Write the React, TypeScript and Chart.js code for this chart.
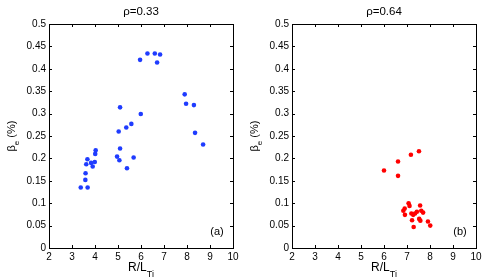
import React, { useEffect, useRef } from "react";
import { Chart, registerables } from "chart.js";

Chart.register(...registerables);

// ---- data ----
const xTicks = [2, 3, 4, 5, 6, 7, 8, 9, 10];
const yTicks = [0, 0.05, 0.1, 0.15, 0.2, 0.25, 0.3, 0.35, 0.4, 0.45, 0.5];

const titles = ["ρ=0.33", "ρ=0.64"];
const panelTags = ["(a)", "(b)"];

const panelAX = [
  3.38, 3.68, 3.58, 3.59, 3.62, 3.67, 3.83, 3.9, 3.99, 4.01, 4.03,
  4.96, 5.06, 5.09, 5.39, 5.68, 5.03, 5.36, 5.58, 5.99, 5.09,
  5.96, 6.28, 6.6, 6.83, 6.7, 7.9, 7.96, 8.3, 8.35, 8.7,
];
const panelAY = [
  0.135, 0.135, 0.152, 0.167, 0.187, 0.198, 0.19, 0.182, 0.192, 0.21, 0.218,
  0.204, 0.196, 0.222, 0.178, 0.202, 0.26, 0.269, 0.277, 0.299, 0.314,
  0.42, 0.434, 0.434, 0.432, 0.414, 0.343, 0.322, 0.319, 0.257, 0.231,
];

const panelBX = [
  6.0, 6.61, 6.61, 7.17, 7.52,
  7.07, 7.11, 7.57, 6.9, 6.84, 6.91, 7.19, 7.35, 7.27, 7.43, 7.62, 7.7,
  7.53, 7.58, 7.22, 7.29, 7.91, 8.01,
];
const panelBY = [
  0.173, 0.193, 0.161, 0.208, 0.216,
  0.1, 0.094, 0.095, 0.088, 0.083, 0.074, 0.077, 0.077, 0.074, 0.081, 0.083, 0.079,
  0.065, 0.061, 0.062, 0.047, 0.059, 0.05,
];

const colors = ["#1f3cff", "#ff0000"];

// ---- layout ----
const W = 485;
const H = 280;
const YW = 40;
const areas = [
  { left: 49, right: 233, top: 24, bottom: 248 },
  { left: 292, right: 476, top: 24, bottom: 248 },
];
const FONT = "'Liberation Sans', Arial, Helvetica, sans-serif";

const framePlugin = {
  id: "matlabFrame",
  afterDraw(chart: any, _args: any, opts: any) {
    const { ctx, chartArea: a, scales } = chart;
    const xs = scales.x;
    const ys = scales.y;
    ctx.save();
    ctx.strokeStyle = "#000";
    ctx.lineWidth = 1;
    ctx.strokeRect(a.left + 0.5, a.top + 0.5, a.right - a.left, a.bottom - a.top);
    const tl = 3;
    ctx.beginPath();
    xTicks.forEach((v) => {
      const px = Math.round(xs.getPixelForValue(v)) + 0.5;
      ctx.moveTo(px, a.bottom);
      ctx.lineTo(px, a.bottom - tl);
      ctx.moveTo(px, a.top);
      ctx.lineTo(px, a.top + tl);
    });
    yTicks.forEach((v) => {
      const py = Math.round(ys.getPixelForValue(v)) + 0.5;
      ctx.moveTo(a.left, py);
      ctx.lineTo(a.left + tl, py);
      ctx.moveTo(a.right, py);
      ctx.lineTo(a.right - tl, py);
    });
    ctx.stroke();

    const cx = (a.left + a.right) / 2;
    const cy = (a.top + a.bottom) / 2;
    ctx.fillStyle = "#000";

    // title
    ctx.font = `11.5px ${FONT}`;
    ctx.textAlign = "center";
    ctx.textBaseline = "middle";
    ctx.fillText(opts.title, cx, 12);

    // panel tag
    ctx.font = `11px ${FONT}`;
    ctx.fillText(opts.tag, a.right - 16, a.bottom - 16);

    // x label R/L_Ti
    ctx.textAlign = "left";
    ctx.textBaseline = "alphabetic";
    ctx.font = `12px ${FONT}`;
    const main = "R/L";
    const w1 = ctx.measureText(main).width;
    ctx.font = `9px ${FONT}`;
    const sub = "Ti";
    const w2 = ctx.measureText(sub).width;
    const sx = cx - (w1 + w2) / 2;
    ctx.font = `12px ${FONT}`;
    ctx.fillText(main, sx, 271);
    ctx.font = `9px ${FONT}`;
    ctx.fillText(sub, sx + w1, 276.5);

    // y label β_e (%)
    ctx.save();
    ctx.translate(a.left - 34, cy);
    ctx.rotate(-Math.PI / 2);
    ctx.font = `11px ${FONT}`;
    const b = "β";
    const wb = ctx.measureText(b).width;
    ctx.font = `8px ${FONT}`;
    const e = "e";
    const we = ctx.measureText(e).width;
    ctx.font = `11px ${FONT}`;
    const pct = " (%)";
    const wp = ctx.measureText(pct).width;
    let lx = -(wb + we + wp) / 2;
    ctx.fillText(b, lx, 0);
    lx += wb;
    ctx.font = `8px ${FONT}`;
    ctx.fillText(e, lx, 3.5);
    lx += we;
    ctx.font = `11px ${FONT}`;
    ctx.fillText(pct, lx, 0);
    ctx.restore();

    ctx.restore();
  },
};

function makeConfig(i: number, xsArr: number[], ysArr: number[]) {
  const area = areas[i];
  return {
    type: "scatter" as const,
    data: {
      datasets: [
        {
          data: xsArr.map((x, k) => ({ x, y: ysArr[k] })),
          backgroundColor: colors[i],
          borderColor: colors[i],
          pointRadius: 2.3,
          pointBorderWidth: 0,
        },
      ],
    },
    options: {
      responsive: false,
      animation: false as const,
      devicePixelRatio: 1,
      events: [],
      layout: {
        padding: {
          left: area.left - YW,
          right: W - area.right,
          top: area.top,
          bottom: 0,
        },
      },
      plugins: {
        legend: { display: false },
        tooltip: { enabled: false },
        title: { display: false },
        matlabFrame: { title: titles[i], tag: panelTags[i] },
      },
      scales: {
        x: {
          type: "linear" as const,
          min: 2,
          max: 10,
          afterBuildTicks: (s: any) => {
            s.ticks = xTicks.map((v) => ({ value: v }));
          },
          afterFit: (s: any) => {
            s.height = H - area.bottom;
          },
          grid: { display: false, drawTicks: false },
          border: { display: false },
          ticks: {
            padding: 3,
            color: "#000",
            maxRotation: 0,
            autoSkip: false,
            font: { family: FONT, size: 10 },
            callback: (v: any) => String(v),
          },
        },
        y: {
          type: "linear" as const,
          min: 0,
          max: 0.5,
          afterBuildTicks: (s: any) => {
            s.ticks = yTicks.map((v) => ({ value: v }));
          },
          afterFit: (s: any) => {
            s.width = YW;
          },
          grid: { display: false, drawTicks: false },
          border: { display: false },
          ticks: {
            padding: 3,
            color: "#000",
            autoSkip: false,
            font: { family: FONT, size: 10 },
            callback: (v: any) => String(v),
          },
        },
      },
    },
    plugins: [framePlugin],
  };
}

export default function App() {
  const refA = useRef<HTMLCanvasElement>(null);
  const refB = useRef<HTMLCanvasElement>(null);

  useEffect(() => {
    const charts: Chart[] = [];
    if (refA.current) charts.push(new Chart(refA.current, makeConfig(0, panelAX, panelAY) as any));
    if (refB.current) charts.push(new Chart(refB.current, makeConfig(1, panelBX, panelBY) as any));
    return () => charts.forEach((c) => c.destroy());
  }, []);

  const cstyle: React.CSSProperties = { position: "absolute", left: 0, top: 0, width: W, height: H };
  return (
    <div style={{ position: "fixed", left: 0, top: 0, width: W, height: H, background: "#fff" }}>
      <canvas ref={refA} width={W} height={H} style={cstyle} />
      <canvas ref={refB} width={W} height={H} style={cstyle} />
    </div>
  );
}
